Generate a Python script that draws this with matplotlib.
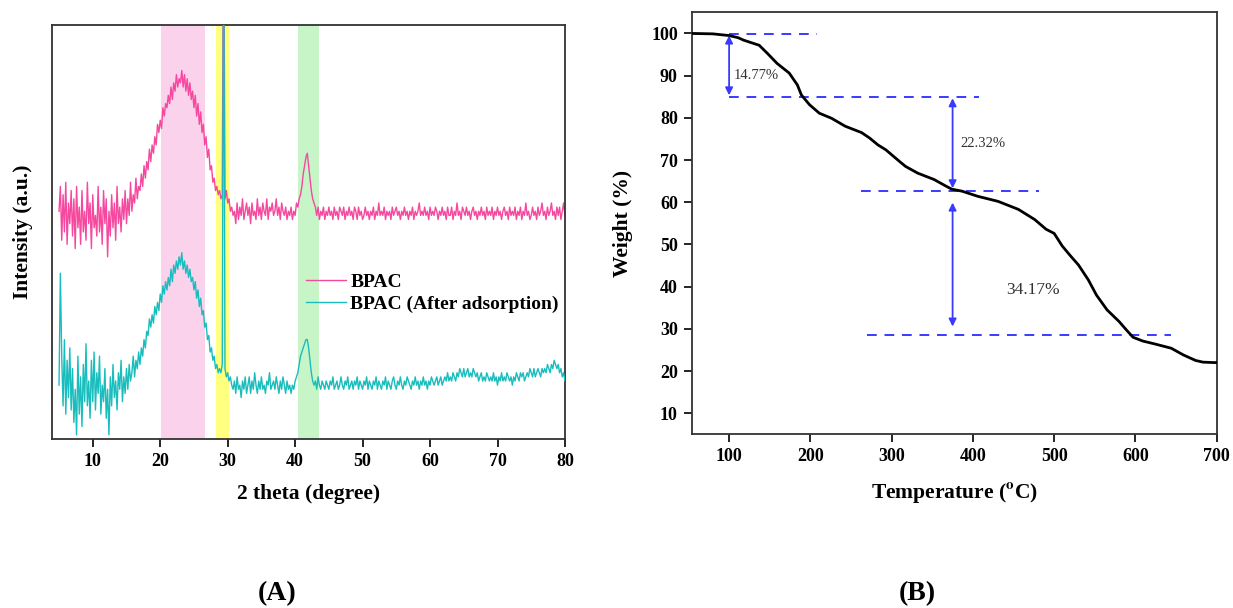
import numpy as np
import matplotlib
matplotlib.use("Agg")
import matplotlib.pyplot as plt

plt.rcParams['font.family'] = ['Liberation Serif', 'DejaVu Serif']
plt.rcParams['mathtext.fontset'] = 'stix'

# XRD patterns, 2 theta from 5 to 80 deg in 0.2 deg steps (intensity in a.u.)
two_theta = np.arange(5.0, 80.01, 0.2)

bpac = [
    55, 61, 48, 59, 50, 62, 47, 57, 52, 60,
    49, 58, 46, 61, 51, 56, 47, 60, 50, 55,
    48, 62, 52, 57, 46, 59, 51, 54, 49, 61,
    50, 56, 47, 60, 52, 58, 44, 55, 49, 59,
    51, 57, 48, 61, 52, 56, 50, 58, 53, 60,
    52, 58, 54, 62, 55, 59, 57, 63, 58, 61,
    60, 64, 61, 66, 63, 67, 65, 70, 67, 71,
    69, 73, 71, 76, 74, 77, 75, 80, 78, 81,
    80, 83, 81, 85, 82, 86, 84, 88, 85, 87,
    86, 89, 85, 88, 84, 87, 83, 86, 82, 84,
    80, 83, 78, 81, 76, 79, 74, 76, 71, 73,
    68, 70, 65, 66, 62, 63, 60, 61, 59, 60,
    58, 59, 135, 58, 60, 57, 58, 55, 56, 54,
    55, 52, 57, 53, 56, 54, 58, 53, 55, 57,
    54, 56, 52, 57, 54, 55, 53, 58, 54, 56,
    53, 57, 55, 54, 58, 53, 56, 55, 57, 54,
    55, 58, 54, 56, 53, 57, 55, 54, 56, 53,
    55, 54, 56, 53, 55, 54, 57, 56, 58, 59,
    61, 64, 66, 68, 69, 66, 63, 60, 58, 57,
    56, 54, 56, 53, 55, 54, 56, 53, 55, 54,
    56, 54, 55, 53, 56, 54, 55, 53, 56, 55,
    54, 56, 53, 55, 54, 56, 54, 55, 53, 56,
    55, 53, 56, 54, 55, 53, 54, 56, 54, 55,
    53, 55, 54, 56, 53, 55, 54, 57, 54, 55,
    54, 56, 53, 55, 54, 55, 53, 56, 54, 55,
    56, 54, 55, 53, 55, 54, 56, 54, 55, 53,
    55, 54, 56, 53, 55, 54, 55, 57, 54, 55,
    54, 56, 54, 55, 53, 56, 54, 55, 54, 56,
    55, 53, 55, 54, 56, 54, 55, 53, 56, 54,
    54, 56, 53, 55, 54, 57, 54, 55, 53, 56,
    55, 54, 56, 54, 55, 53, 55, 56, 54, 55,
    53, 55, 54, 56, 54, 55, 53, 56, 54, 55,
    54, 56, 53, 55, 54, 56, 54, 55, 53, 55,
    56, 54, 55, 53, 56, 54, 55, 54, 56, 53,
    55, 54, 56, 53, 55, 54, 57, 54, 55, 53,
    54, 56, 54, 55, 53, 56, 54, 55, 57, 54,
    55, 53, 56, 54, 55, 57, 54, 55, 53, 56,
    54, 56, 53, 55, 57, 54,
]

bpac_ads = [
    13, 40, 20, 8, 24, 6, 19, 10, 22, 7,
    17, 4, 12, 1, 20, 6, 15, 3, 18, 9,
    23, 8, 14, 5, 19, 9, 21, 7, 16, 11,
    20, 6, 13, 9, 17, 5, 12, 1, 15, 8,
    18, 10, 14, 7, 16, 12, 19, 9, 15, 11,
    17, 12, 18, 14, 16, 20, 15, 19, 17, 21,
    18, 22, 20, 24, 22, 26, 25, 29, 27, 30,
    28, 32, 30, 33, 31, 35, 33, 37, 35, 38,
    36, 39, 37, 41, 38, 42, 40, 43, 41, 44,
    42, 45, 41, 43, 40, 42, 39, 41, 38, 39,
    36, 38, 34, 36, 32, 34, 30, 31, 27, 28,
    24, 25, 21, 22, 19, 20, 17, 18, 16, 17,
    16, 18, 130, 17, 15, 16, 14, 15, 13, 12,
    14, 11, 15, 12, 13, 10, 14, 12, 15, 11,
    13, 15, 11, 14, 12, 16, 13, 11, 14, 12,
    15, 12, 13, 11, 14, 13, 16, 12, 13, 14,
    12, 15, 13, 11, 14, 12, 15, 13, 11, 14,
    12, 13, 11, 13, 12, 14, 15, 16, 18, 20,
    21, 22, 23, 24, 24, 22, 19, 16, 14, 13,
    14, 12, 15, 13, 12, 14, 13, 12, 14, 13,
    12, 14, 13, 15, 12, 13, 14, 12, 13, 15,
    13, 12, 14, 13, 15, 12, 13, 14, 12, 14,
    13, 15, 12, 14, 13, 12, 14, 13, 15, 12,
    14, 13, 12, 14, 13, 15, 12, 14, 13, 12,
    14, 13, 15, 12, 14, 13, 12, 14, 15, 13,
    12, 14, 13, 15, 13, 12, 14, 13, 15, 14,
    13, 12, 14, 13, 15, 13, 14, 12, 14, 13,
    15, 13, 14, 12, 14, 13, 15, 14, 13, 14,
    15, 13, 14, 15, 13, 14, 15, 14, 16, 14,
    15, 14, 16, 15, 14, 16, 15, 17, 16, 15,
    17, 15, 16, 17, 15, 16, 15, 17, 16, 15,
    16, 14, 15, 16, 14, 15, 14, 16, 15, 14,
    15, 14, 16, 14, 15, 13, 15, 14, 16, 14,
    15, 14, 16, 15, 14, 15, 13, 15, 14, 16,
    15, 14, 16, 15, 16, 14, 15, 16, 15, 17,
    16, 15, 17, 15, 16, 17, 16, 15, 17, 16,
    17, 16, 18, 17, 16, 18, 17, 19, 18, 17,
    18, 16, 17, 15, 16, 14,
]

# highlighted 2 theta ranges
bands = [(20.1, 26.7, '#fad2ec'), (28.3, 30.2, '#ffff80'), (40.4, 43.6, '#c8f5c8')]

# TGA curve
temp = [54, 80, 100, 111, 118, 137, 147, 159, 174, 184, 189, 199, 211, 226, 243,
        263, 273, 283, 293, 307, 317, 332, 352, 367, 374, 387, 406, 431, 456, 476,
        490, 500, 510, 520, 530, 542, 552, 565, 580, 589, 597, 609, 624, 644, 659,
        674, 683, 696, 700]
weight = [100, 99.9, 99.5, 99.0, 98.4, 97.2, 95.3, 92.9, 90.6, 87.8, 85.4, 83.1, 81.1, 79.9, 78.0,
          76.5, 75.2, 73.6, 72.4, 70.1, 68.5, 66.9, 65.4, 63.8, 63.1, 62.6, 61.4, 60.2, 58.3, 55.9,
          53.6, 52.6, 49.6, 47.3, 45.1, 41.6, 38.0, 34.5, 31.7, 29.7, 28.0, 27.1, 26.4, 25.4, 23.8,
          22.5, 22.1, 22.0, 22.0]

# weight loss steps
start_level = 99.8
losses = [14.77, 22.32, 34.17]
levels = [start_level]
for loss in losses:
    levels.append(levels[-1] - loss)
dash_spans = [(100, 208), (100, 408), (262, 481), (270, 644)]
arrow_x = [100, 375, 375]
arrow_shrink = [(0.3, 0.3), (0.4, 0.6), (2.8, 2.0)]
label_pos = [(106, 90.1), (384, 73.8), (441, 39.2)]

blue = '#3a3aff'
spine_col = '#333333'

fig = plt.figure(figsize=(12.33, 6.08), dpi=100)

# ---- (A) XRD ----
ax1 = fig.add_axes([0.0424, 0.278, 0.4158, 0.681])
for lo, hi, c in bands:
    ax1.axvspan(lo, hi, color=c, lw=0, zorder=0)
ax1.plot(two_theta, bpac, color='#f5489e', lw=1.0, label='BPAC', zorder=2)
ax1.plot(two_theta, bpac_ads, color='#19bdbd', lw=1.0, label='BPAC (After adsorption)', zorder=3)
ax1.set_xlim(4, 80)
ax1.set_ylim(0, 100)
ax1.set_yticks([])
ax1.set_xticks(range(10, 81, 10))
ax1.tick_params(axis='x', direction='out', length=6, width=1.2, labelsize=13, pad=4)
for lab in ax1.get_xticklabels():
    lab.set_fontweight('bold')
ax1.set_xlabel('2 theta (degree)', fontsize=15.5, fontweight='bold', labelpad=10)
ax1.set_ylabel('Intensity (a.u.)', fontsize=15.5, fontweight='bold', labelpad=14)
leg = ax1.legend(loc='upper left', bbox_to_anchor=(0.494, 0.4), frameon=False,
                 prop={'weight': 'bold', 'size': 14}, handlelength=2.1,
                 handletextpad=0.2, labelspacing=0.2, borderpad=0, borderaxespad=0)

# ---- (B) TGA ----
ax2 = fig.add_axes([0.561, 0.2857, 0.4258, 0.694])
ax2.plot(temp, weight, color='black', lw=2.0, zorder=3)
for lev, (x0, x1) in zip(levels, dash_spans):
    ax2.plot([x0, x1], [lev, lev], color=blue, lw=1.4, ls=(0, (5, 4)), zorder=2)
for i, loss in enumerate(losses):
    sa, sb = arrow_shrink[i]
    ax2.annotate('', xy=(arrow_x[i], levels[i + 1] + sb), xytext=(arrow_x[i], levels[i] - sa),
                 arrowprops=dict(arrowstyle='<|-|>', color=blue, lw=1.3,
                                 mutation_scale=11, shrinkA=0, shrinkB=0))
    lx, ly = label_pos[i]
    ax2.text(lx, ly, '%.2f%%' % loss, fontsize=10.5 if i < 2 else 12.5,
             color='#333333', va='center', ha='left')
ax2.set_xlim(54, 700)
ax2.set_ylim(5, 105)
ax2.set_xticks(range(100, 701, 100))
ax2.set_yticks(range(10, 101, 10))
ax2.tick_params(direction='out', length=6, width=1.2, labelsize=13, pad=4)
for lab in ax2.get_xticklabels() + ax2.get_yticklabels():
    lab.set_fontweight('bold')
ax2.set_xlabel(r'Temperature ($\mathbf{^{o}}$C)', fontsize=15.5, fontweight='bold', labelpad=11)
ax2.set_ylabel('Weight (%)', fontsize=15.5, fontweight='bold', labelpad=13)

for ax in (ax1, ax2):
    for sp in ax.spines.values():
        sp.set_color(spine_col)
        sp.set_linewidth(1.3)

fig.text(277 / 1233, 1 - 594 / 608, '(A)', fontsize=20, fontweight='bold', ha='center', va='center')
fig.text(917 / 1233, 1 - 594 / 608, '(B)', fontsize=20, fontweight='bold', ha='center', va='center')

fig.savefig('out.png', dpi=100)
